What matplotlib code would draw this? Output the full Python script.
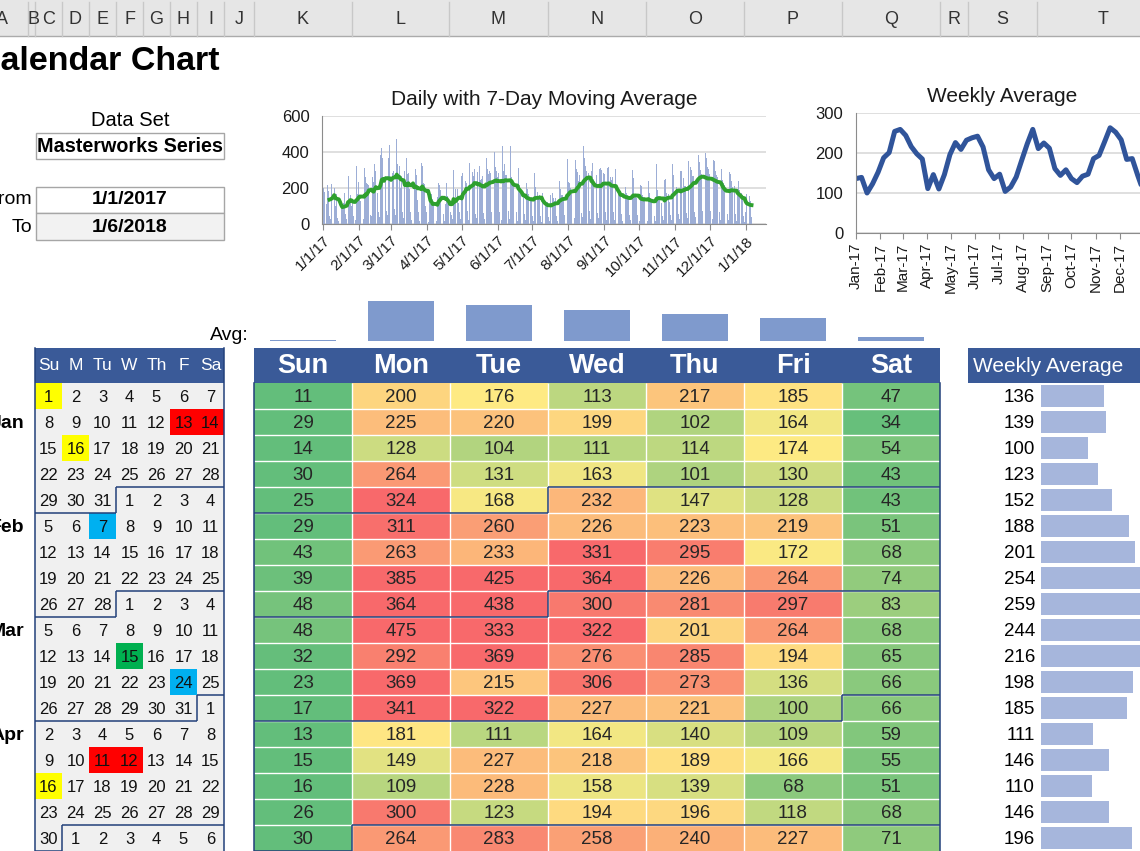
import datetime as dt
import numpy as np
import pandas as pd
import matplotlib
matplotlib.use('Agg')
import matplotlib.pyplot as plt
import matplotlib.dates as mdates
from matplotlib.colors import LinearSegmentedColormap, TwoSlopeNorm
from matplotlib.patches import Rectangle
from matplotlib.collections import LineCollection

plt.rcParams['font.family'] = ['Liberation Sans', 'DejaVu Sans']

# ---- data ----
start_date = dt.date(2017, 1, 1)
end_date = dt.date(2018, 1, 6)
data_set = 'Masterworks Series'
day_names = ['Sun', 'Mon', 'Tue', 'Wed', 'Thu', 'Fri', 'Sat']
cal_names = ['Su', 'M', 'Tu', 'W', 'Th', 'F', 'Sa']
n_rows = 18  # weeks visible on screen

# one row per week, Sun..Sat
weeks = [
    [11, 200, 176, 113, 217, 185, 47],
    [29, 225, 220, 199, 102, 164, 34],
    [14, 128, 104, 111, 114, 174, 54],
    [30, 264, 131, 163, 101, 130, 43],
    [25, 324, 168, 232, 147, 128, 43],
    [29, 311, 260, 226, 223, 219, 51],
    [43, 263, 233, 331, 295, 172, 68],
    [39, 385, 425, 364, 226, 264, 74],
    [48, 364, 438, 300, 281, 297, 83],
    [48, 475, 333, 322, 201, 264, 68],
    [32, 292, 369, 276, 285, 194, 65],
    [23, 369, 215, 306, 273, 136, 66],
    [17, 341, 322, 227, 221, 100, 66],
    [13, 181, 111, 164, 140, 109, 59],
    [15, 149, 227, 218, 189, 166, 55],
    [16, 109, 228, 158, 139, 68, 51],
    [26, 300, 123, 194, 196, 118, 68],
    [30, 264, 283, 258, 240, 227, 71],
    # rest of the sheet (below the screen), estimated from the charts
    [24, 341, 298, 290, 265, 307, 57],
    [31, 287, 322, 244, 251, 268, 60],
    [27, 366, 305, 280, 296, 281, 69],
    [35, 402, 318, 297, 263, 285, 66],
    [22, 431, 296, 331, 274, 270, 70],
    [28, 433, 262, 239, 228, 251, 64],
    [19, 312, 214, 186, 167, 152, 56],
    [21, 228, 197, 168, 143, 148, 47],
    [17, 284, 204, 176, 141, 160, 47],
    [12, 173, 148, 119, 113, 124, 39],
    [14, 162, 171, 142, 128, 146, 42],
    [18, 241, 196, 163, 161, 152, 49],
    [26, 362, 231, 228, 201, 168, 58],
    [33, 358, 306, 289, 241, 271, 63],
    [41, 434, 366, 322, 295, 281, 74],
    [29, 296, 337, 248, 233, 271, 63],
    [31, 308, 312, 298, 284, 276, 66],
    [25, 312, 318, 259, 244, 262, 64],
    [22, 306, 215, 187, 172, 169, 56],
    [18, 251, 203, 174, 161, 151, 50],
    [23, 301, 253, 168, 166, 143, 52],
    [16, 217, 212, 163, 150, 148, 46],
    [14, 238, 171, 147, 133, 137, 42],
    [19, 332, 188, 153, 139, 118, 45],
    [21, 246, 249, 174, 168, 122, 49],
    [24, 336, 272, 229, 208, 176, 57],
    [27, 296, 293, 258, 212, 212, 60],
    [32, 348, 317, 301, 268, 264, 66],
    [38, 422, 381, 344, 302, 279, 75],
    [36, 392, 367, 318, 303, 276, 72],
    [29, 357, 348, 297, 272, 262, 66],
    [22, 304, 247, 226, 217, 214, 58],
    [25, 287, 276, 237, 208, 212, 57],
    [18, 196, 238, 191, 172, 148, 45],
    [12, 64, 168, 171, 153, 128, 39],
]

# "Avg:" bars over the day columns
day_avg = [26, 250, 226, 199, 176, 152, 44]

# highlighted days in the mini calendar
hl_dates = ['2017-01-01', '2017-01-13', '2017-01-14', '2017-01-16', '2017-02-07',
            '2017-03-15', '2017-03-24', '2017-04-11', '2017-04-12', '2017-04-16']
hl_colors = ['#FFFF00', '#FF0000', '#FF0000', '#FFFF00', '#00B0F0',
             '#00B050', '#00B0F0', '#FF0000', '#FF0000', '#FFFF00']

col_letters = ['A', 'B', 'C', 'D', 'E', 'F', 'G', 'H', 'I', 'J',
               'K', 'L', 'M', 'N', 'O', 'P', 'Q', 'R', 'S', 'T']
col_edges = [-24, 28, 35, 62, 89, 116, 143, 170, 197, 224, 254,
             352, 449, 548, 646, 744, 842, 940, 968, 1037, 1170]

vals = np.array(weeks)
daily = vals.ravel()
weekly_avg = np.round(vals.mean(axis=1)).astype(int)

# ---- figure ----
W, H = 1140, 851
fig = plt.figure(figsize=(W / 100, H / 100), dpi=100)


def px_axes(x0, y0, x1, y1):
    return fig.add_axes([x0 / W, 1 - y1 / H, (x1 - x0) / W, (y1 - y0) / H])


bg = px_axes(0, 0, W, H)
bg.axis('off')

blue = '#3A5A98'
dark = '#22407A'

# sheet column header
bg.add_patch(Rectangle((0, 0), W, 36, fc='#E6E6E6', ec='none'))
bg.plot([0, W], [36, 36], color='#ABABAB', lw=1)
for i, letter in enumerate(col_letters):
    x0, x1 = col_edges[i], col_edges[i + 1]
    t = bg.text((x0 + x1) / 2 + (2 if letter == 'B' else 0), 20, letter,
                ha='center', va='center', fontsize=13, color='#333333')
    t.set_clip_path(Rectangle((x0, 0), x1 - x0, 36, transform=bg.transData))
    bg.plot([x1, x1], [2, 36], color='#C8C8C8', lw=1)

bg.text(-24.5, 70, 'Calendar Chart', fontsize=24.5, weight='bold', va='baseline')

# data set / date range boxes
bg.text(130, 120, 'Data Set', fontsize=14.5, ha='center', va='center')
bg.add_patch(Rectangle((36, 133), 188, 26, fc='white', ec='#A6A6A6', lw=1))
bg.text(130, 146, data_set, fontsize=14.2, weight='bold', ha='center', va='center')
bg.add_patch(Rectangle((36, 187), 188, 26, fc='white', ec='#A6A6A6', lw=1))
bg.add_patch(Rectangle((36, 213), 188, 27, fc='#F2F2F2', ec='#A6A6A6', lw=1))
bg.text(32, 200, 'From', fontsize=14, ha='right', va='center')
bg.text(32, 227, 'To', fontsize=14, ha='right', va='center')
bg.text(130, 200, f'{start_date.month}/{start_date.day}/{start_date.year}',
        fontsize=14, weight='bold', ha='center', va='center')
bg.text(130, 227, f'{end_date.month}/{end_date.day}/{end_date.year}',
        fontsize=14, weight='bold', ha='center', va='center')

bg.text(249, 336, 'Avg:', fontsize=14, ha='right', va='center')

top = 383
rh = 26


def month_lines(x_left, cw):
    segs = []
    for r in range(n_rows):
        for c in range(7):
            d = start_date + dt.timedelta(days=7 * r + c)
            if c < 6 and (d + dt.timedelta(days=1)).month != d.month:
                x = x_left + (c + 1) * cw
                segs.append([(x, top + r * rh), (x, top + (r + 1) * rh)])
            if (d + dt.timedelta(days=7)).month != d.month:
                y = top + (r + 1) * rh
                segs.append([(x_left + c * cw, y), (x_left + (c + 1) * cw, y)])
    return segs


# mini calendar
cx, cw = 35, 27
bg.add_patch(Rectangle((cx, 348), 7 * cw, 35, fc=blue, ec='none'))
bg.add_patch(Rectangle((cx, top), 7 * cw, n_rows * rh, fc='#F0F0F0', ec='none'))
hl = dict(zip(hl_dates, hl_colors))
for c, name in enumerate(cal_names):
    bg.text(cx + c * cw + cw / 2, 366, name, color='white', fontsize=12.5,
            ha='center', va='center')
for r in range(n_rows):
    for c in range(7):
        d = start_date + dt.timedelta(days=7 * r + c)
        if d.isoformat() in hl:
            bg.add_patch(Rectangle((cx + c * cw, top + r * rh), cw, rh,
                                   fc=hl[d.isoformat()], ec='none'))
        bg.text(cx + c * cw + cw / 2, top + r * rh + rh / 2 + 1, str(d.day),
                fontsize=12, ha='center', va='center', color='#111111')
        if d.day == 8:
            bg.text(24, top + r * rh + rh / 2 + 1, d.strftime('%b'), fontsize=14,
                    weight='bold', ha='right', va='center')
bg.add_collection(LineCollection(month_lines(cx, cw), colors=dark, lw=1.1))
bg.plot([cx, cx], [348, H], color=dark, lw=1.1)
bg.plot([cx + 7 * cw, cx + 7 * cw], [348, H], color=dark, lw=1.1)

# heat map (3-colour scale, 10th / 50th / 90th percentile)
hx, hw = 254, 98
cmap = LinearSegmentedColormap.from_list('xl3', ['#63BE7B', '#FFEB84', '#F8696B'])
lo, mid, hi = np.percentile(vals, [10, 50, 90])
norm = TwoSlopeNorm(vmin=lo, vcenter=mid, vmax=hi)
bg.add_patch(Rectangle((hx, 348), 7 * hw, 35, fc=blue, ec='none'))
bg.imshow(cmap(norm(np.clip(vals[:n_rows], lo, hi))),
          extent=(hx, hx + 7 * hw, top + n_rows * rh, top),
          aspect='auto', interpolation='nearest')
for c, name in enumerate(day_names):
    bg.text(hx + c * hw + hw / 2, 366, name, color='white', fontsize=19.5, weight='bold',
            family=['Liberation Sans Narrow', 'Liberation Sans'],
            ha='center', va='center')
for r in range(n_rows):
    for c in range(7):
        bg.text(hx + c * hw + hw / 2, top + r * rh + rh / 2 + 1, str(vals[r, c]),
                fontsize=13.5, ha='center', va='center', color='#262626')
bg.hlines([top + r * rh for r in range(1, n_rows)], hx, hx + 7 * hw, color='white', lw=1)
bg.vlines([hx + c * hw for c in range(1, 7)], top, H, color='white', lw=1)
bg.add_collection(LineCollection(month_lines(hx, hw), colors=dark, lw=1.1))
bg.plot([hx, hx], [top, H], color=dark, lw=1.1)
bg.plot([hx + 7 * hw, hx + 7 * hw], [top, H], color=dark, lw=1.1)

# weekly average column
bg.add_patch(Rectangle((968, 348), 180, 35, fc=blue, ec='none'))
bg.text(973, 366, 'Weekly Average', color='white', fontsize=15, ha='left', va='center')
for r in range(n_rows):
    bg.text(1035, top + r * rh + rh / 2 + 1, str(weekly_avg[r]), fontsize=13.5,
            ha='right', va='center')

bg.set_xlim(0, W)
bg.set_ylim(H, 0)

wb = px_axes(1041, top, 1181, top + n_rows * rh)
wb.barh(range(n_rows), weekly_avg[:n_rows], height=0.84, color='#A6B6DC')
wb.set_xlim(0, 300)
wb.set_ylim(n_rows - 0.5, -0.5)
wb.axis('off')

# Avg: bars over the day columns
ab = px_axes(hx, 295, hx + 7 * hw, 341)
ab.bar(range(7), day_avg, width=0.67, color='#7F9ACD')
ab.set_xlim(-0.5, 6.5)
ab.set_ylim(20, 284)
ab.axis('off')

# daily chart with 7-day moving average
dates = pd.date_range(start_date, periods=daily.size, freq='D')
ma = pd.Series(daily).rolling(7).mean()
ax1 = px_axes(322, 116, 766, 224)
ax1.bar(dates, daily, width=0.8, color='#9DAED6', lw=0)
ax1.plot(dates, ma, color='#2EA02E', lw=2.8)
d0 = mdates.date2num(start_date)
ax1.set_xlim(d0 - 0.5, d0 + 382.5)
ax1.set_ylim(0, 600)
ax1.set_yticks([0, 200, 400, 600])
months1 = pd.date_range('2017-01-01', '2018-01-01', freq='MS')
ax1.set_xticks(months1, [f'{m.month}/{m.day}/{m:%y}' for m in months1],
               rotation=45, ha='right', rotation_mode='anchor')
ax1.set_title('Daily with 7-Day Moving Average', fontsize=15, color='#1a1a1a', pad=8)

# weekly average line
week_dates = pd.date_range(start_date, periods=len(weekly_avg), freq='7D')
ax2 = px_axes(856, 113, 1148, 233)
ax2.plot(week_dates, weekly_avg, color='#30549A', lw=3.6, solid_capstyle='round')
ax2.set_xlim(d0, d0 + 370)
ax2.set_ylim(0, 300)
ax2.set_yticks([0, 100, 200, 300])
months2 = pd.date_range('2017-01-01', '2017-12-01', freq='MS')
ax2.set_xticks(months2, [f'{m:%b-%y}' for m in months2], rotation=90,
               ha='center', va='top')
ax2.set_title('Weekly Average', fontsize=15, color='#1a1a1a', pad=8)

for a in (ax1, ax2):
    for s in ('top', 'right'):
        a.spines[s].set_visible(False)
    for s in ('left', 'bottom'):
        a.spines[s].set_color('#8C8C8C')
    a.yaxis.grid(True, color='#D9D9D9', lw=1.2)
    a.set_axisbelow(True)
    a.tick_params(axis='y', length=0, pad=9, labelsize=12, labelcolor='#1a1a1a')
    a.tick_params(axis='x', length=4, color='#8C8C8C', pad=3, labelsize=11,
                  labelcolor='#1a1a1a')

fig.savefig('out.png', dpi=100)
